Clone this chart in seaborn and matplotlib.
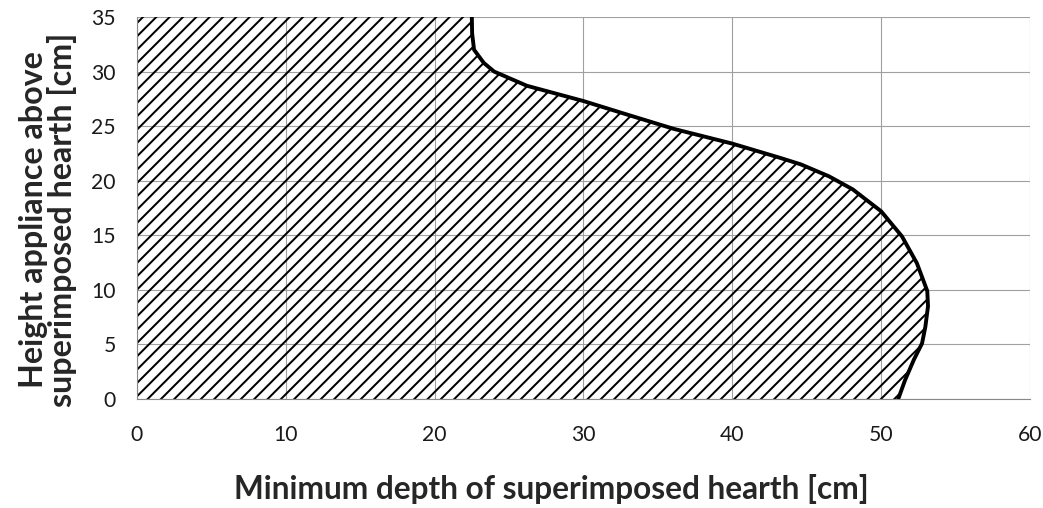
import matplotlib
matplotlib.use("Agg")
import matplotlib.pyplot as plt
import numpy as np
import pandas as pd
import seaborn as sns

# curve: depth [cm] vs height [cm]
height = [0, 1.7, 3.6, 5.1, 6.6, 8.5, 9.9, 12.45, 14.9, 17.2, 19.2, 20.4,
          21.5, 22.1, 23.4, 24.75, 26.05, 27.3, 28.7, 30.0, 30.8, 32.0,
          33.5, 35]
depth = [51.15, 51.6, 52.2, 52.75, 52.97, 53.15, 53.1, 52.4, 51.4, 50.0,
         48.1, 46.5, 44.6, 43.2, 40.0, 36.07, 32.96, 30.0, 26.2, 24.0,
         23.3, 22.65, 22.52, 22.5]

x_ticks = [0, 10, 20, 30, 40, 50, 60]
y_ticks = [0, 5, 10, 15, 20, 25, 30, 35]

sns.set_style("white")
plt.rcParams["font.family"] = ["Lato", "DejaVu Sans"]
plt.rcParams["hatch.linewidth"] = 1.8

df = pd.DataFrame({"depth": depth, "height": height})

fig, ax = plt.subplots(figsize=(1043 / 80, 508 / 80), dpi=80)
fig.subplots_adjust(left=0.1313, right=0.9875, top=0.9665, bottom=0.2146)

ax.fill_betweenx(df["height"], 0, df["depth"], facecolor="none",
                 edgecolor="black", hatch="//", linewidth=0, zorder=2)
sns.lineplot(data=df, x="depth", y="height", orient="y", estimator=None,
             color="black", linewidth=3.5, ax=ax, zorder=3)

ax.set_xlim(0, 60)
ax.set_ylim(0, 35)
ax.set_xticks(x_ticks)
ax.set_yticks(y_ticks)
ax.grid(True, color="#a0a0a0", linewidth=1.0, zorder=1)
ax.set_axisbelow(True)
for side in ["top", "right"]:
    ax.spines[side].set_visible(False)
for side in ["left", "bottom"]:
    ax.spines[side].set_color("#888888")
    ax.spines[side].set_linewidth(1.0)
ax.tick_params(axis="both", direction="out", length=7, width=1,
               color="#888888", labelsize=19, labelcolor="#1a1a1a")
ax.tick_params(axis="x", pad=16)
ax.tick_params(axis="y", pad=12)

ax.set_xlabel("Minimum depth of superimposed hearth [cm]", fontsize=28.5,
              fontweight="bold")
ax.xaxis.set_label_coords(0.4636, -0.196)
ax.set_ylabel("Height appliance above\nsuperimposed hearth [cm]",
              fontsize=29, fontweight="bold", linespacing=0.97)
ax.yaxis.set_label_coords(-0.067, 0.47)

fig.savefig("out.png", dpi=80)
